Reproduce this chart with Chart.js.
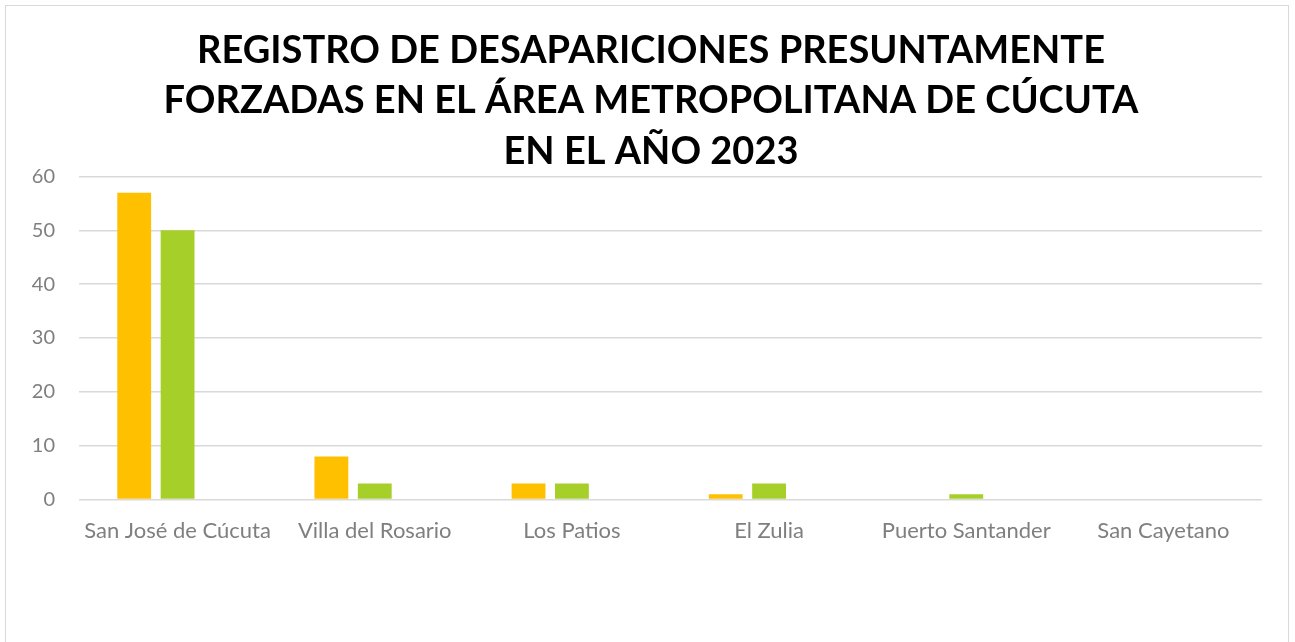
<!DOCTYPE html>
<html>
<head>
<meta charset="utf-8">
<script src="https://cdn.jsdelivr.net/npm/chart.js@4/dist/chart.umd.min.js"></script>
<style>
  html, body { margin: 0; padding: 0; background: #fff; }
  #wrap {
    position: absolute; left: 5px; top: 5px;
    width: 1284px; height: 650px;
    border: 1px solid #d9d9d9;
    box-sizing: border-box;
  }
  canvas { display: block; }
</style>
</head>
<body>
<div id="wrap"><canvas id="desap-chart"></canvas></div>
<script>
const municipios = ['San José de Cúcuta', 'Villa del Rosario', 'Los Patios', 'El Zulia', 'Puerto Santander', 'San Cayetano'];
const serieA = [57, 8, 3, 1, 0, 0];
const serieB = [50, 3, 3, 3, 1, 0];
const serieC = [null, null, null, null, null, null];
const tituloLineas = [
  'REGISTRO DE DESAPARICIONES PRESUNTAMENTE',
  'FORZADAS EN EL ÁREA METROPOLITANA DE CÚCUTA',
  'EN EL AÑO 2023'
];

const ctx = document.getElementById('desap-chart').getContext('2d');
ctx.canvas.width = 1282;
ctx.canvas.height = 648;

const desapChart = new Chart(ctx, {
  type: 'bar',
  data: {
    labels: municipios,
    datasets: [
      { label: 'Serie 1', data: serieA, backgroundColor: '#FFC000' },
      { label: 'Serie 2', data: serieB, backgroundColor: '#A6CF2A' },
      { label: 'Serie 3', data: serieC, backgroundColor: '#4472C4' },
    ],
  },
  options: {
    responsive: false,
    animation: false,
    categoryPercentage: 0.66,
    barPercentage: 0.78,
    layout: { padding: { left: 8, right: 0, top: 4, bottom: 100 } },
    plugins: {
      legend: { display: false },
      tooltip: { enabled: false },
      title: {
        display: true,
        text: tituloLineas,
        color: '#000',
        font: { family: 'Lato', size: 38, weight: 'bold', lineHeight: 1.32 },
        padding: { top: 16, bottom: 0 },
      },
    },
    scales: {
      x: {
        grid: { display: false },
        border: { display: false },
        ticks: { color: '#7f7f7f', font: { family: 'Lato', size: 22 }, padding: 10, maxRotation: 0 },
      },
      y: {
        min: 0,
        max: 60,
        afterFit: (scale) => { scale.width = 65; },
        ticks: { stepSize: 10, color: '#7f7f7f', font: { family: 'Lato', size: 20 }, padding: 24 },
        grid: { color: '#d9d9d9', lineWidth: 1.5, drawTicks: false },
        border: { display: false },
      },
      // empty right margin so the title sits where it does in the original
      yRight: {
        position: 'right',
        display: true,
        min: 0,
        max: 60,
        afterFit: (scale) => { scale.width = 26; },
        ticks: { display: false },
        grid: { display: false },
        border: { display: false },
      },
    },
  },
});
</script>
</body>
</html>
